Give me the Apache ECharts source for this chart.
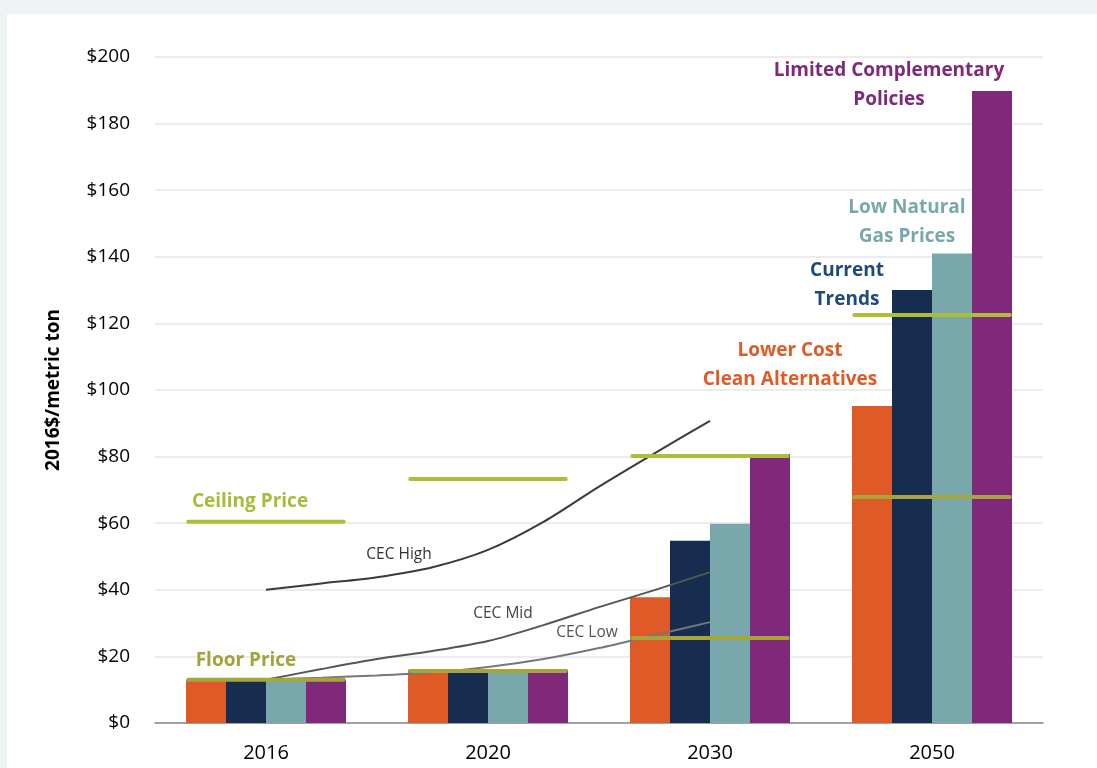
<!DOCTYPE html>
<html>
<head>
<meta charset="utf-8">
<script src="https://cdn.jsdelivr.net/npm/echarts@6/dist/echarts.min.js"></script>
<style>
  html, body { margin: 0; padding: 0; background: #eef3f6; }
  #main { position: absolute; left: 7px; top: 14px; width: 1090px; height: 754px; background: #fff; }
</style>
</head>
<body>
<div id="main"></div>
<script>
// categories and bar values ($/metric ton)
var years = ['2016', '2020', '2030', '2050'];
var lowerCost = [13, 16, 37.8, 95.2];
var currentTrends = [13, 16, 54.7, 130];
var lowGas = [13, 16, 59.8, 141];
var limitedPolicies = [13, 16, 80.8, 189.8];

// price ceiling / floor per year
var ceilingPrice = [60.4, 73.3, 80.2, 122.5];
var floorPrice = [13, 15.6, 25.5, 67.9];

// CEC curves, x in category units (0.5 = 2016, 1.5 = 2020, 2.5 = 2030)
var cecHigh = [[0.5, 40], [0.75, 41.9], [1.0, 43.8], [1.25, 46.8], [1.5, 52], [1.75, 60.4], [2.0, 71], [2.25, 81], [2.5, 90.7]];
var cecMid = [[0.5, 13], [0.75, 16.2], [1.0, 19.2], [1.25, 21.6], [1.5, 24.6], [1.75, 29.4], [2.0, 34.8], [2.25, 39.9], [2.5, 45.3]];
var cecLow = [[0.5, 13], [0.75, 13.6], [1.0, 14.3], [1.25, 15.2], [1.5, 16.8], [1.75, 19.2], [2.0, 22.5], [2.25, 26.4], [2.5, 30.3]];

var yTicks = [0, 20, 40, 60, 80, 100, 120, 140, 160, 180, 200];

var myChart = echarts.init(document.getElementById('main'));

var font = '"Open Sans", Lato, sans-serif';

function barSeries(name, data, color) {
  return {
    name: name, type: 'bar', data: data,
    xAxisIndex: 0, barWidth: 40, barGap: '0%',
    itemStyle: { color: color },
    z: 2
  };
}

function segSeries(values, color) {
  return values.map(function (v, i) {
    return {
      type: 'line', xAxisIndex: 1, symbol: 'none', silent: true,
      data: [[i + 0.15, v], [i + 0.85, v]],
      lineStyle: { color: color, width: 4, cap: 'round' },
      z: 5
    };
  });
}

function curve(data, color) {
  return {
    type: 'line', xAxisIndex: 1, symbol: 'none', smooth: 0.3, silent: true,
    data: data, lineStyle: { color: color, width: 2 }, z: 4
  };
}

var series = [
  barSeries('Lower Cost Clean Alternatives', lowerCost, '#e05a28'),
  barSeries('Current Trends', currentTrends, '#172d50'),
  barSeries('Low Natural Gas Prices', lowGas, '#78a8ab'),
  barSeries('Limited Complementary Policies', limitedPolicies, '#80297a'),
  curve(cecHigh, '#3a3a3a'),
  curve(cecMid, '#555'),
  curve(cecLow, '#777')
].concat(segSeries(ceilingPrice, '#adbe38')).concat(segSeries(floorPrice, '#a5a53a'));

function label(text, x, y, color, size, weight) {
  return {
    type: 'text', x: x, y: y, z: 10,
    style: {
      text: text, fill: color, font: weight + ' ' + size + 'px ' + font,
      align: 'center', verticalAlign: 'middle', lineHeight: 29
    }
  };
}

var option = {
  animation: false,
  textStyle: { fontFamily: font },
  grid: { left: 148, top: 43, right: 54, bottom: 45 },
  xAxis: [{
    type: 'category', data: years,
    axisTick: { show: false },
    axisLine: { lineStyle: { color: '#888', width: 1.5 } },
    axisLabel: { color: '#000', fontSize: 20, margin: 20 }
  }, {
    type: 'value', min: 0, max: 4, show: false
  }],
  yAxis: {
    type: 'value', min: 0, max: 200, interval: 20,
    name: '2016$/metric ton', nameLocation: 'middle', nameRotate: 90, nameGap: 92,
    nameTextStyle: { color: '#000', fontSize: 19, fontWeight: 'bold' },
    axisLine: { show: false }, axisTick: { show: false },
    axisLabel: {
      color: '#000', fontSize: 19, margin: 25,
      formatter: function (v) { return yTicks.indexOf(v) >= 0 ? '$' + v : ''; }
    },
    splitLine: { lineStyle: { color: '#e6e6e6', width: 1.5 } }
  },
  series: series,
  graphic: {
    elements: [
      label('Limited Complementary\nPolicies', 882, 71.5, '#80297a', 19, 'bold'),
      label('Low Natural\nGas Prices', 900, 208.5, '#78a8ab', 19, 'bold'),
      label('Current\nTrends', 840, 271.5, '#1c4a7e', 19, 'bold'),
      label('Lower Cost\nClean Alternatives', 783, 351.5, '#e05a28', 19, 'bold'),
      label('Ceiling Price', 243, 488, '#a9bc3a', 19, 'bold'),
      label('Floor Price', 239, 647, '#a4a23a', 19, 'bold'),
      label('CEC High', 392, 541, '#333', 15.5, 'normal'),
      label('CEC Mid', 496, 600, '#444', 15.5, 'normal'),
      label('CEC Low', 580, 619, '#555', 15.5, 'normal')
    ]
  }
};

myChart.setOption(option);
</script>
</body>
</html>
